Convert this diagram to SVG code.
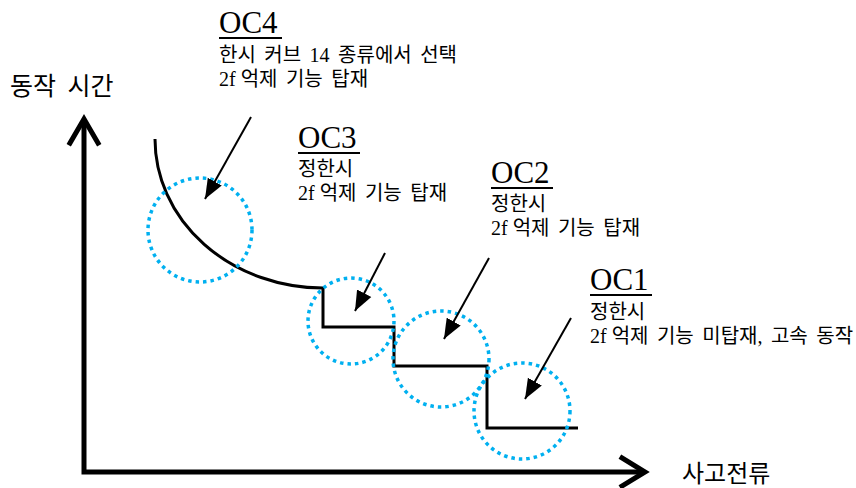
<svg xmlns="http://www.w3.org/2000/svg" width="856" height="488" viewBox="0 0 856 488">
<defs>
<style>
.axis{fill:none;stroke:#000;stroke-width:5;stroke-linecap:butt;stroke-linejoin:miter}
.head{fill:none;stroke:#000;stroke-width:5;stroke-linecap:square;stroke-linejoin:miter}
.curve{fill:none;stroke:#000;stroke-width:3}
.ring{fill:none;stroke:#00B0F0;stroke-width:3.5;stroke-dasharray:3.5 4}
.ptr{fill:none;stroke:#000;stroke-width:2}
.title{font-family:"Liberation Serif","Times New Roman",serif;font-size:31px;fill:#000}
.ul{stroke:#000;stroke-width:2}
.desc{font-family:"Liberation Serif","Noto Sans CJK KR",sans-serif;font-size:20px;fill:#000;word-spacing:3.5px}
.tight{word-spacing:0px}
.axl{font-family:"Noto Sans CJK KR",sans-serif;fill:#000}
</style>
<marker id="tri" markerUnits="userSpaceOnUse" markerWidth="24" markerHeight="18" refX="20" refY="8" orient="auto" viewBox="0 0 24 16">
<path d="M0,0 L20,8 L0,16 Z" fill="#000"/>
</marker>
</defs>
<rect width="856" height="488" fill="#fff"/>

<g id="axes">
<path class="axis" d="M84,119 L84,472 L645,472"/>
<path class="head" d="M70,143 L84,119 L98,143"/>
<path class="head" d="M622,458 L645,472 L622,486"/>
<text class="axl" x="10" y="95" font-size="25" style="word-spacing:6px">동작 시간</text>
<text class="axl" x="682" y="482" font-size="24">사고전류</text>
</g>

<g id="curve">
<path class="curve" d="M155,139 A168,149 0 0 0 323,288 L323,327 L394,327 L394,366 L487,366 L487,428 L578,428"/>
</g>

<g id="rings">
<circle class="ring" cx="200" cy="230" r="52"/>
<circle class="ring" cx="351" cy="321" r="43"/>
<circle class="ring" cx="441" cy="359" r="48"/>
<circle class="ring" cx="522" cy="411" r="48"/>
</g>

<g id="connectors">
<line class="ptr" x1="251" y1="117" x2="205" y2="199" marker-end="url(#tri)"/>
<line class="ptr" x1="385" y1="253" x2="355" y2="311" marker-end="url(#tri)"/>
<line class="ptr" x1="489" y1="258" x2="444" y2="339" marker-end="url(#tri)"/>
<line class="ptr" x1="571" y1="318" x2="525" y2="399" marker-end="url(#tri)"/>
</g>

<g id="OC4">
<text class="title" x="219" y="33">OC4</text>
<line class="ul" x1="219" y1="38" x2="282" y2="38"/>
<text class="desc" x="219" y="62">한시 커브 14 종류에서 선택</text>
<text class="desc" x="219" y="86"><tspan class="tight">2f </tspan>억제 기능 탑재</text>
</g>

<g id="OC3">
<text class="title" x="298" y="148">OC3</text>
<line class="ul" x1="298" y1="153" x2="360" y2="153"/>
<text class="desc" x="298" y="176">정한시</text>
<text class="desc" x="298" y="200"><tspan class="tight">2f </tspan>억제 기능 탑재</text>
</g>

<g id="OC2">
<text class="title" x="491" y="183">OC2</text>
<line class="ul" x1="491" y1="188" x2="553" y2="188"/>
<text class="desc" x="491" y="211">정한시</text>
<text class="desc" x="491" y="235"><tspan class="tight">2f </tspan>억제 기능 탑재</text>
</g>

<g id="OC1">
<text class="title" x="590" y="290">OC1</text>
<line class="ul" x1="590" y1="295" x2="652" y2="295"/>
<text class="desc" x="590" y="319">정한시</text>
<text class="desc" x="590" y="343"><tspan class="tight">2f </tspan>억제 기능 미탑재, 고속 동작</text>
</g>
</svg>
